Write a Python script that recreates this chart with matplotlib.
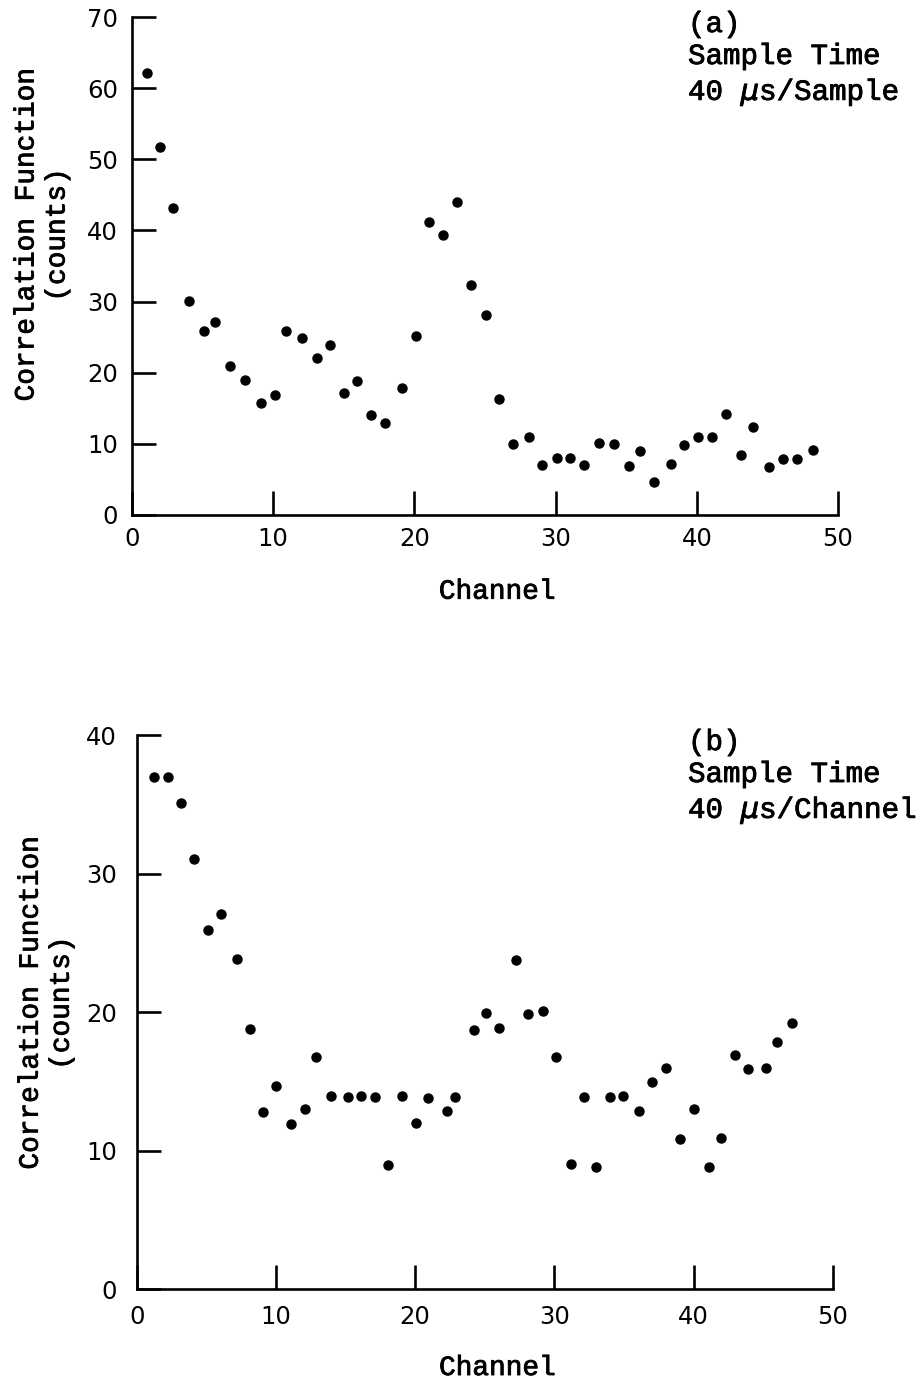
import matplotlib
matplotlib.use("Agg")
import matplotlib.pyplot as plt
import matplotlib.patheffects as pe

# panel (a): 40 us per sample
chan_a = [1.06, 2.0, 2.9, 4.04, 5.1, 5.9, 6.95, 8.0, 9.1, 10.1, 10.9, 12.06,
          13.1, 14.04, 15.0, 15.9, 16.9, 17.9, 19.1, 20.1, 21.0, 22.0, 23.0, 24.0,
          25.06, 26.0, 27.0, 28.1, 29.05, 30.1, 31.0, 32.0, 33.1, 34.1, 35.2, 36.0,
          37.0, 38.2, 39.1, 40.1, 41.1, 42.1, 43.1, 44.0, 45.1, 46.1, 47.1, 48.2]
corr_a = [62.1, 51.7, 43.1, 30.1, 25.8, 27.1, 21.0, 19.0, 15.8, 16.9, 25.8, 24.9,
          22.0, 23.9, 17.1, 18.8, 14.0, 12.9, 17.9, 25.2, 41.2, 39.4, 44.0, 32.3,
          28.1, 16.3, 10.0, 11.0, 7.0, 8.0, 8.0, 7.0, 10.1, 10.0, 6.9, 9.0,
          4.7, 7.2, 9.8, 10.9, 11.0, 14.2, 8.4, 12.3, 6.7, 7.9, 7.9, 9.2]

# panel (b): 40 us per channel
chan_b = [1.24, 2.25, 3.16, 4.14, 5.12, 6.08, 7.18, 8.12, 9.1, 10.03, 11.08, 12.1,
          12.88, 13.98, 15.16, 16.1, 17.1, 18.07, 19.08, 20.1, 20.9, 22.27, 22.9, 24.2,
          25.1, 26.0, 27.27, 28.1, 29.2, 30.1, 31.2, 32.1, 33.0, 34.0, 34.96, 36.06,
          37.0, 38.05, 39.0, 40.06, 41.1, 42.0, 43.0, 43.9, 45.2, 46.0, 47.1]
corr_b = [36.96, 37.0, 35.06, 31.07, 25.9, 27.05, 23.85, 18.76, 12.79, 14.67, 11.9, 12.99,
          16.76, 13.97, 13.9, 13.95, 13.9, 8.95, 13.95, 11.98, 13.8, 12.89, 13.85, 18.73,
          19.96, 18.83, 23.8, 19.89, 20.06, 16.74, 9.06, 13.87, 8.82, 13.9, 13.92, 12.84,
          14.93, 16.0, 10.87, 12.99, 8.8, 10.9, 16.9, 15.9, 15.95, 17.87, 19.2]

xticks = [0, 10, 20, 30, 40, 50]
yticks_a = [0, 10, 20, 30, 40, 50, 60, 70]
yticks_b = [0, 10, 20, 30, 40]

TYPE = "Liberation Mono"
# typewriter ink: thicken the thin mono strokes a little
INK = [pe.withStroke(linewidth=0.6, foreground="black")]

fig = plt.figure(figsize=(9.18, 13.84), dpi=100)
ax1 = fig.add_axes([0.1438, 0.6279, 0.7691, 0.3598])
ax2 = fig.add_axes([0.1489, 0.0684, 0.7582, 0.4005])


def style(ax, yticks, ytop, ypad, xpad):
    ax.set_xlim(0, 50)
    ax.set_ylim(0, ytop)
    ax.set_xticks(xticks)
    ax.set_yticks(yticks)
    for s in ("top", "right"):
        ax.spines[s].set_visible(False)
    for s in ("left", "bottom"):
        ax.spines[s].set_linewidth(1.9)
    ax.tick_params(axis="both", direction="in", length=17, width=1.9,
                   labelsize=17.5)
    ax.tick_params(axis="y", pad=ypad)
    ax.tick_params(axis="x", pad=xpad)


ax1.plot(chan_a, corr_a, "o", color="black", ms=6.5, clip_on=False)
style(ax1, yticks_a, 70, 10, 9)
ax1.set_xlabel("Channel", family=TYPE, fontsize=20, path_effects=INK)
ax1.xaxis.set_label_coords(0.517, -0.128)
ax1.set_ylabel("Correlation Function\n(counts)", family=TYPE, fontsize=20,
               va="center", linespacing=1.25, path_effects=INK)
ax1.yaxis.set_label_coords(-0.1275, 0.562)

ax2.plot(chan_b, corr_b, "o", color="black", ms=6.5, clip_on=False)
style(ax2, yticks_b, 40, 14, 11)
ax2.set_xlabel("Channel", family=TYPE, fontsize=20, path_effects=INK)
ax2.xaxis.set_label_coords(0.518, -0.1185)
ax2.set_ylabel("Correlation Function\n(counts)", family=TYPE, fontsize=20,
               va="center", linespacing=1.25, path_effects=INK)
ax2.yaxis.set_label_coords(-0.130, 0.516)

# sample-time notes
notes = [("(a)", 32), ("Sample Time", 64), ("40 $\\mu$s/Sample", 100),
         ("(b)", 750), ("Sample Time", 782), ("40 $\\mu$s/Channel", 818)]
for txt, ypx in notes:
    fig.text(688 / 918, 1 - ypx / 1384, txt, family=TYPE, fontsize=21,
             ha="left", va="baseline", path_effects=INK)

fig.savefig("out.png", dpi=100)
